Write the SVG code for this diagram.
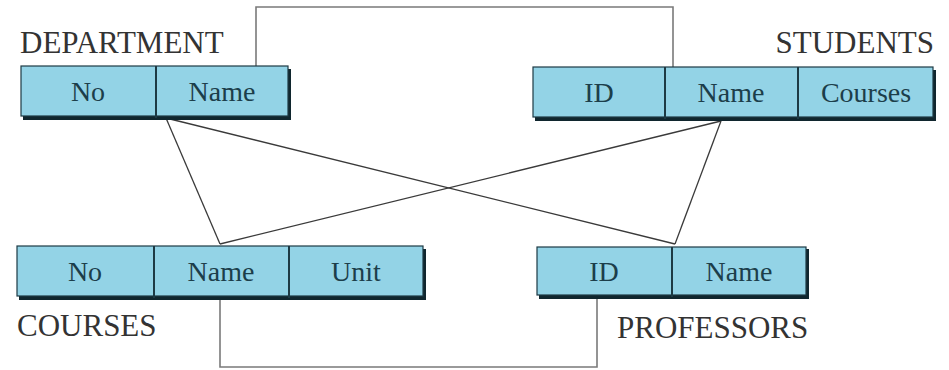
<svg xmlns="http://www.w3.org/2000/svg" width="949" height="370" viewBox="0 0 949 370">
  <style>
    .shadow { fill: #10262e; }
    .cell { fill: #93d3e6; stroke: #1d3a44; stroke-width: 1.2; }
    .div { stroke: #1d3a44; stroke-width: 2; }
    .field { font-family: "Liberation Serif", "Times New Roman", serif; font-size: 28px; fill: #1c3e4a; text-anchor: middle; }
    .title { font-family: "Liberation Serif", "Times New Roman", serif; font-size: 31px; fill: #333333; }
    .link { fill: none; stroke: #3a3a3a; stroke-width: 1.3; }
    .loop { fill: none; stroke: #7a7a7a; stroke-width: 1.6; }
  </style>
  <rect width="949" height="370" fill="#ffffff"/>

  <!-- relationship lines -->
  <g id="connectors">
    <polyline class="loop" points="256,66 256,7 673,7 673,67"/>
    <polyline class="loop" points="220,298 220,367 597,367 597,296"/>
    <line class="link" x1="166" y1="118" x2="220" y2="244"/>
    <line class="link" x1="166" y1="118" x2="675" y2="244"/>
    <line class="link" x1="721" y1="121" x2="220" y2="244"/>
    <line class="link" x1="721" y1="121" x2="675" y2="244"/>
  </g>

  <!-- DEPARTMENT table -->
  <g id="department">
    <text class="title" x="20" y="53">DEPARTMENT</text>
    <rect class="shadow" x="23" y="69" width="268" height="51"/>
    <rect class="cell" x="21" y="66" width="267" height="50"/>
    <line class="div" x1="156" y1="66" x2="156" y2="118"/>
    <text class="field" x="88" y="101">No</text>
    <text class="field" x="222" y="101">Name</text>
  </g>

  <!-- STUDENTS table -->
  <g id="students">
    <text class="title" x="934" y="53" text-anchor="end">STUDENTS</text>
    <rect class="shadow" x="535" y="70" width="401" height="51"/>
    <rect class="cell" x="533" y="67" width="400" height="50"/>
    <line class="div" x1="665" y1="67" x2="665" y2="119"/>
    <line class="div" x1="798" y1="67" x2="798" y2="119"/>
    <text class="field" x="599" y="102">ID</text>
    <text class="field" x="731" y="102">Name</text>
    <text class="field" x="866" y="102">Courses</text>
  </g>

  <!-- COURSES table -->
  <g id="courses">
    <rect class="shadow" x="19" y="249" width="407" height="51"/>
    <rect class="cell" x="17" y="246" width="406" height="50"/>
    <line class="div" x1="154" y1="246" x2="154" y2="298"/>
    <line class="div" x1="289" y1="246" x2="289" y2="298"/>
    <text class="field" x="85" y="281">No</text>
    <text class="field" x="221" y="281">Name</text>
    <text class="field" x="356" y="281">Unit</text>
    <text class="title" x="17" y="336">COURSES</text>
  </g>

  <!-- PROFESSORS table -->
  <g id="professors">
    <rect class="shadow" x="539" y="249" width="270" height="50"/>
    <rect class="cell" x="537" y="247" width="269" height="48"/>
    <line class="div" x1="672" y1="247" x2="672" y2="297"/>
    <text class="field" x="604" y="281">ID</text>
    <text class="field" x="739" y="281">Name</text>
    <text class="title" x="617" y="338">PROFESSORS</text>
  </g>
</svg>
